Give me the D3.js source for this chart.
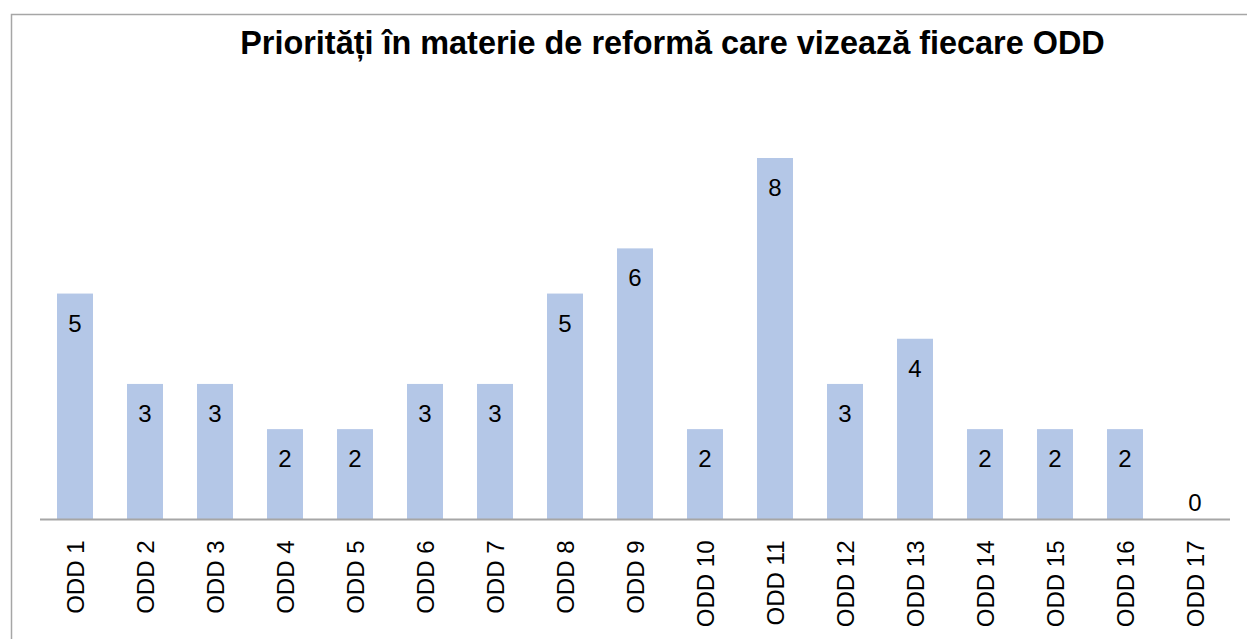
<!DOCTYPE html>
<html>
<head>
<meta charset="utf-8">
<script src="https://cdn.jsdelivr.net/npm/d3@7"></script>
<style>
  html, body { margin: 0; padding: 0; background: #fff; }
  svg { display: block; }
</style>
</head>
<body>
<svg id="chart" width="1247" height="639"></svg>
<script>
const chartTitle = "Priorități în materie de reformă care vizează fiecare ODD";
const categories = ["ODD 1","ODD 2","ODD 3","ODD 4","ODD 5","ODD 6","ODD 7","ODD 8","ODD 9","ODD 10","ODD 11","ODD 12","ODD 13","ODD 14","ODD 15","ODD 16","ODD 17"];
const values = [5,3,3,2,2,3,3,5,6,2,8,3,4,2,2,2,0];

const svg = d3.select("#chart");
const font = "'Liberation Sans', Arial, sans-serif";

// outer frame
svg.append("rect")
  .attr("x", 11.5).attr("y", 14.5)
  .attr("width", 1260).attr("height", 660)
  .attr("fill", "#fff").attr("stroke", "#a6a6a6").attr("stroke-width", 1.5);

const x = d3.scaleBand().domain(categories).range([40, 1230]).paddingInner(0.486).paddingOuter(0.243);
const y = d3.scaleLinear().domain([0, 8]).range([519.5, 158]);

// title
const title = svg.append("text")
  .attr("x", 672.5).attr("y", 54)
  .attr("text-anchor", "middle")
  .attr("font-family", font).attr("font-weight", "bold")
  .attr("font-size", 30).attr("fill", "#000")
  .text(chartTitle);
const tw = title.node().getComputedTextLength();
title.attr("font-size", 30 * 865 / tw);

// bars
svg.append("g").selectAll("rect").data(values).join("rect")
  .attr("x", (d, i) => x(categories[i]))
  .attr("y", d => y(d))
  .attr("width", x.bandwidth())
  .attr("height", d => y(0) - y(d))
  .attr("fill", "#b4c7e7");

// data labels
svg.append("g").selectAll("text").data(values).join("text")
  .attr("x", (d, i) => x(categories[i]) + x.bandwidth() / 2)
  .attr("y", d => d > 0 ? y(d) + 38 : y(0) - 9)
  .attr("text-anchor", "middle")
  .attr("font-family", font).attr("font-size", 24).attr("fill", "#000")
  .text(d => d);

// x axis
const xAxis = d3.axisBottom(x).tickSize(0).tickPadding(0);
const gx = svg.append("g").attr("transform", `translate(0,${y(0)})`).call(xAxis);
gx.select(".domain").attr("stroke", "#a6a6a6").attr("stroke-width", 2).attr("d", "M40,0H1230");
gx.selectAll(".tick text")
  .attr("font-family", font).attr("font-size", 24).attr("fill", "#000")
  .attr("text-anchor", "end")
  .attr("transform", "rotate(-90)")
  .attr("x", -21).attr("y", 0).attr("dy", "0.36em");
</script>
</body>
</html>
